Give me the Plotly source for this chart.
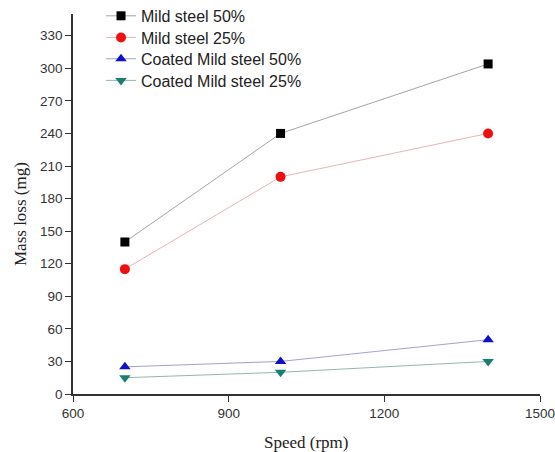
import plotly.graph_objects as go

speed = [700, 1000, 1400]
mild_50 = [140, 240, 304]
mild_25 = [115, 200, 240]
coated_50 = [25, 30, 50]
coated_25 = [15, 20, 30]

series_names = ["Mild steel 50%", "Mild steel 25%", "Coated Mild steel 50%", "Coated Mild steel 25%"]
x_ticks = [600, 900, 1200, 1500]
y_ticks = list(range(0, 331, 30))
x_title = "Speed (rpm)"
y_title = "Mass loss (mg)"

styles = [
    dict(symbol="square", color="#000000", line="rgba(90,90,90,0.55)", size=9),
    dict(symbol="circle", color="#ee1010", line="rgba(200,90,90,0.45)", size=10),
    dict(symbol="triangle-up", color="#1010c8", line="rgba(70,70,150,0.5)", size=10),
    dict(symbol="triangle-down", color="#1a7f72", line="rgba(40,110,100,0.5)", size=10),
]
legend_rows_y = [0.995, 0.938, 0.882, 0.825]
legend_ids = ["legend", "legend2", "legend3", "legend4"]

fig = go.Figure()
for name, vals, st, lid in zip(series_names, [mild_50, mild_25, coated_50, coated_25], styles, legend_ids):
    fig.add_trace(go.Scatter(
        x=speed, y=vals, name=name, mode="lines+markers", legend=lid,
        line=dict(color=st["line"], width=1),
        marker=dict(symbol=st["symbol"], color=st["color"], size=st["size"], line=dict(width=0)),
    ))

axis_common = dict(
    showgrid=False, zeroline=False, showline=True, linecolor="#333333", linewidth=1.5,
    ticks="outside", ticklen=6, tickwidth=1.2, tickcolor="#333333",
    tickfont=dict(family="Liberation Sans, Arial, sans-serif", size=13.5, color="#333333"),
    automargin=False, mirror=False, ticklabeloverflow="allow",
)

title_font = dict(family="Liberation Serif, Times New Roman, serif", size=17, color="#222222")
legend_font = dict(family="Liberation Sans, Arial, sans-serif", size=16, color="#222222")

layout_legends = {}
for lid, ly in zip(legend_ids, legend_rows_y):
    layout_legends[lid] = dict(x=0.06, y=ly, xanchor="left", yanchor="middle",
                               bgcolor="rgba(0,0,0,0)", borderwidth=0, font=legend_font)

fig.update_layout(
    width=555, height=452,
    margin=dict(l=73, r=15, t=14, b=58, autoexpand=False),
    paper_bgcolor="white", plot_bgcolor="white",
    xaxis=dict(range=[600, 1500], tickvals=x_ticks, **axis_common),
    yaxis=dict(range=[0, 350], tickvals=y_ticks, **axis_common),
    showlegend=True,
    annotations=[
        dict(text=x_title, xref="paper", yref="paper", x=0.5, y=0, yshift=-48,
             xanchor="center", yanchor="middle", showarrow=False, font=title_font),
        dict(text=y_title, xref="paper", yref="paper", x=0, y=0.5, xshift=-53, yshift=-10,
             xanchor="center", yanchor="middle", textangle=-90, showarrow=False, font=title_font),
    ],
    **layout_legends,
)

fig.write_html(
    "out.html",
    config={"displayModeBar": False},
    post_script="document.body.style.margin='0';document.documentElement.style.overflow='hidden';",
)
